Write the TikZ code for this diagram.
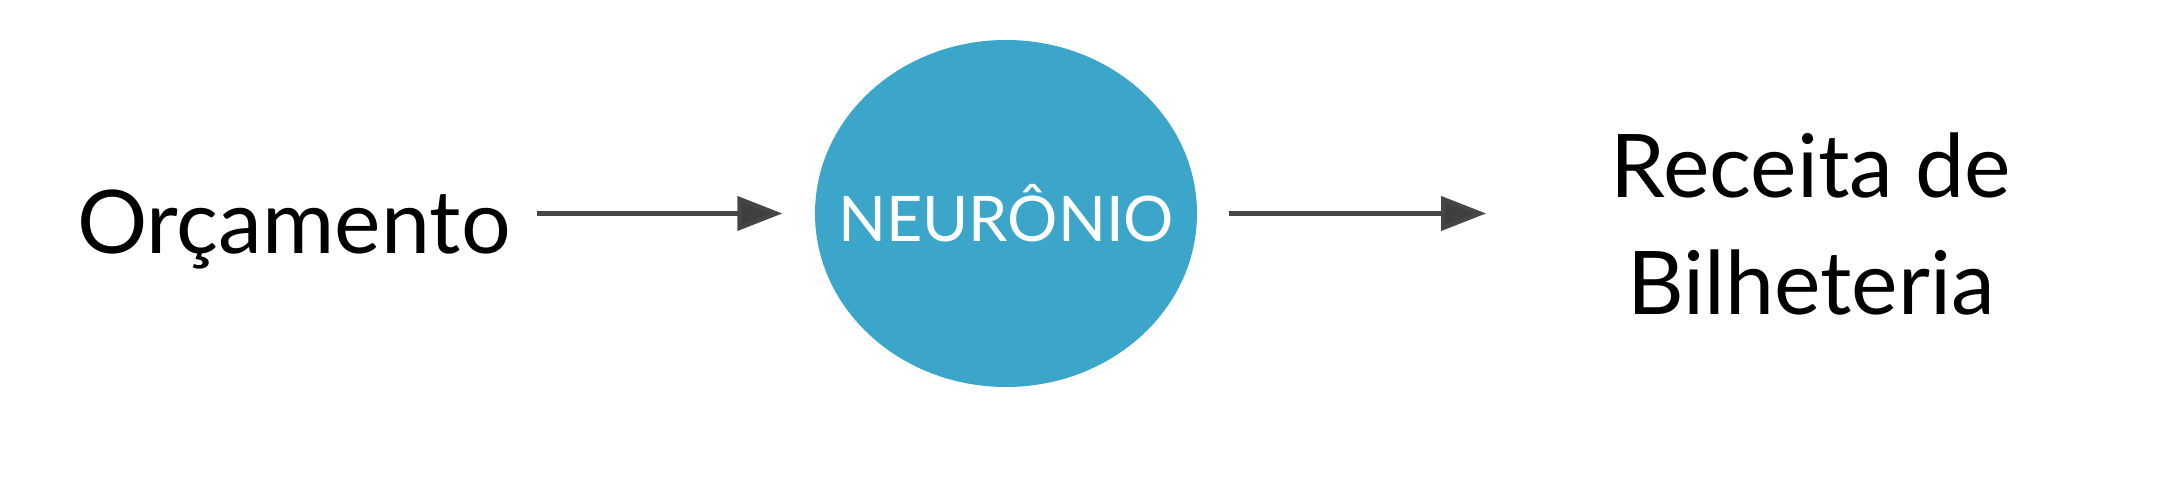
\documentclass[tikz,border=0pt]{standalone}
\usepackage{fontspec}
\setmainfont{Lato}
\usepackage{tikz}
\usetikzlibrary{arrows.meta, positioning, shapes.geometric, calc}
\definecolor{neuronblue}{RGB}{59, 166, 201}
\definecolor{arrowgray}{RGB}{70, 70, 70}

\begin{document}
\begin{tikzpicture}[
  every node/.style={inner sep=0pt},
  txt/.style={font=\fontsize{25}{33.5}\selectfont, align=center, text=black},
  neuron/.style={ellipse, fill=neuronblue, minimum width=3.82cm, minimum height=3.47cm, font=\fontsize{17.9}{20}\selectfont, text=white},
  arrow/.style={-{Triangle[length=4.5mm, width=3.4mm, fill=arrowgray!90!black]}, line width=1.2pt, color=arrowgray}
]
  \useasboundingbox (0,0) rectangle (21.78,4.80);

  % Entrada, neuronio, saida
  \node[txt, anchor=base] (orc) at (2.94, 2.26) {Orçamento};
  \node[neuron] (neu) at (10.06, 2.665) {\makebox[0pt]{NEURÔNIO}};
  \node[txt, anchor=base] (rec) at (18.11, 1.65) {Receita de\\Bilheteria};

  \draw[arrow, shorten <=0.26cm, shorten >=0.32cm] (orc.east |- neu) -- (neu.west);
  \draw[arrow, shorten <=0.31cm, shorten >=1.24cm] (neu.east) -- (rec.west |- neu);

\end{tikzpicture}
\end{document}
